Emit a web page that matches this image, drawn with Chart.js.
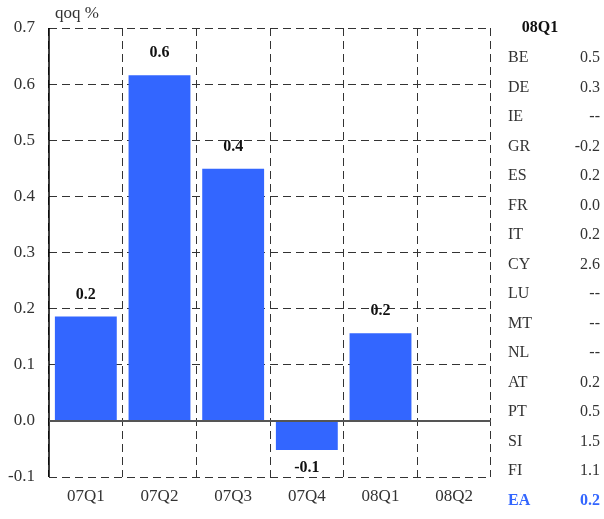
<!DOCTYPE html>
<html>
<head>
<meta charset="utf-8">
<script src="https://cdn.jsdelivr.net/npm/chart.js@4/dist/chart.umd.min.js"></script>
<style>
  html, body { margin: 0; padding: 0; background: #fff; }
  #wrap { position: relative; width: 604px; height: 519px; font-family: "Liberation Serif", "DejaVu Serif", serif; color: #222; }
  #chart { position: absolute; left: 0; top: 0; }
  .unit { position: absolute; left: 55px; top: 3px; font-size: 17px; color: #333; }
  .hdr { position: absolute; left: 500px; width: 80px; top: 18px; text-align: center; font-weight: bold; font-size: 16px; color: #111; }
  .row { position: absolute; left: 508px; width: 92px; height: 20px; font-size: 16px; line-height: 20px; color: #333; }
  .row .c { position: absolute; left: 0; }
  .row .v { position: absolute; right: 0; }
  .row.ea { color: #3366ff; font-weight: bold; }
</style>
</head>
<body>
<div id="wrap">
  <canvas id="chart" width="604" height="519"></canvas>
  <div class="unit">qoq %</div>
  <div class="hdr" id="hdr"></div>
  <div id="table"></div>
</div>
<script>
// Quarterly growth, euro area (qoq %)
const quarters = ['07Q1', '07Q2', '07Q3', '07Q4', '08Q1', '08Q2'];
const growth = [0.186, 0.616, 0.449, -0.052, 0.156, null];
const yTicks = [-0.1, 0.0, 0.1, 0.2, 0.3, 0.4, 0.5, 0.6, 0.7];

// Country breakdown for the latest quarter
const tableQuarter = '08Q1';
const countries = ['BE', 'DE', 'IE', 'GR', 'ES', 'FR', 'IT', 'CY', 'LU', 'MT', 'NL', 'AT', 'PT', 'SI', 'FI', 'EA'];
const countryValues = ['0.5', '0.3', '--', '-0.2', '0.2', '0.0', '0.2', '2.6', '--', '--', '--', '0.2', '0.5', '1.5', '1.1', '0.2'];

// Side table
document.getElementById('hdr').textContent = tableQuarter;
const tbl = document.getElementById('table');
countries.forEach((c, i) => {
  const row = document.createElement('div');
  row.className = 'row' + (c === 'EA' ? ' ea' : '');
  row.style.top = (47 + i * 29.5) + 'px';
  const a = document.createElement('span'); a.className = 'c'; a.textContent = c;
  const b = document.createElement('span'); b.className = 'v'; b.textContent = countryValues[i];
  row.appendChild(a); row.appendChild(b);
  tbl.appendChild(row);
});

const FONT = "'Liberation Serif', 'DejaVu Serif', serif";
const DASH = [8, 5];

// Solid left axis, solid zero line and value labels on the bars
const overlay = {
  id: 'overlay',
  afterDatasetsDraw(chart) {
    const { ctx, chartArea, scales } = chart;
    const y0 = scales.y.getPixelForValue(0);
    ctx.save();
    ctx.setLineDash([]);
    ctx.strokeStyle = '#000';
    ctx.lineWidth = 1.5;
    ctx.beginPath();
    ctx.moveTo(chartArea.left, chartArea.top);
    ctx.lineTo(chartArea.left, chartArea.bottom);
    ctx.stroke();

    ctx.strokeStyle = '#555';
    ctx.lineWidth = 2;
    ctx.beginPath();
    ctx.moveTo(chartArea.left, y0);
    ctx.lineTo(chartArea.right, y0);
    ctx.stroke();

    ctx.font = 'bold 16px ' + FONT;
    ctx.fillStyle = '#111';
    ctx.textAlign = 'center';
    ctx.textBaseline = 'middle';
    const meta = chart.getDatasetMeta(0);
    meta.data.forEach((bar, i) => {
      const v = growth[i];
      if (v === null || v === undefined) return;
      const txt = v.toFixed(1);
      const y = v >= 0 ? bar.y - 22 : bar.y + 18;
      ctx.fillText(txt, bar.x, y);
    });
    ctx.restore();
  }
};

new Chart(document.getElementById('chart'), {
  type: 'bar',
  data: {
    labels: quarters,
    datasets: [{
      data: growth,
      backgroundColor: '#3366ff',
      borderWidth: 0,
      barPercentage: 0.84,
      categoryPercentage: 1.0
    }]
  },
  options: {
    responsive: false,
    animation: false,
    layout: { padding: { top: 28, right: 113, left: 0, bottom: 0 } },
    plugins: { legend: { display: false }, tooltip: { enabled: false } },
    scales: {
      x: {
        offset: true,
        grid: { offset: true, color: '#333', lineWidth: 1, drawTicks: false },
        border: { display: false, dash: DASH },
        ticks: { font: { family: FONT, size: 17 }, color: '#333', padding: 9 },
        afterFit(s) { s.height = 42; }
      },
      y: {
        min: -0.1,
        max: 0.7,
        afterBuildTicks(s) { s.ticks = yTicks.map(v => ({ value: v })); },
        grid: { color: '#333', lineWidth: 1, drawTicks: false },
        border: { display: false, dash: DASH },
        ticks: {
          font: { family: FONT, size: 17 },
          color: '#333',
          padding: 14,
          callback: v => Number(v).toFixed(1)
        },
        afterFit(s) { s.width = 49; }
      }
    }
  },
  plugins: [overlay]
});
</script>
</body>
</html>
